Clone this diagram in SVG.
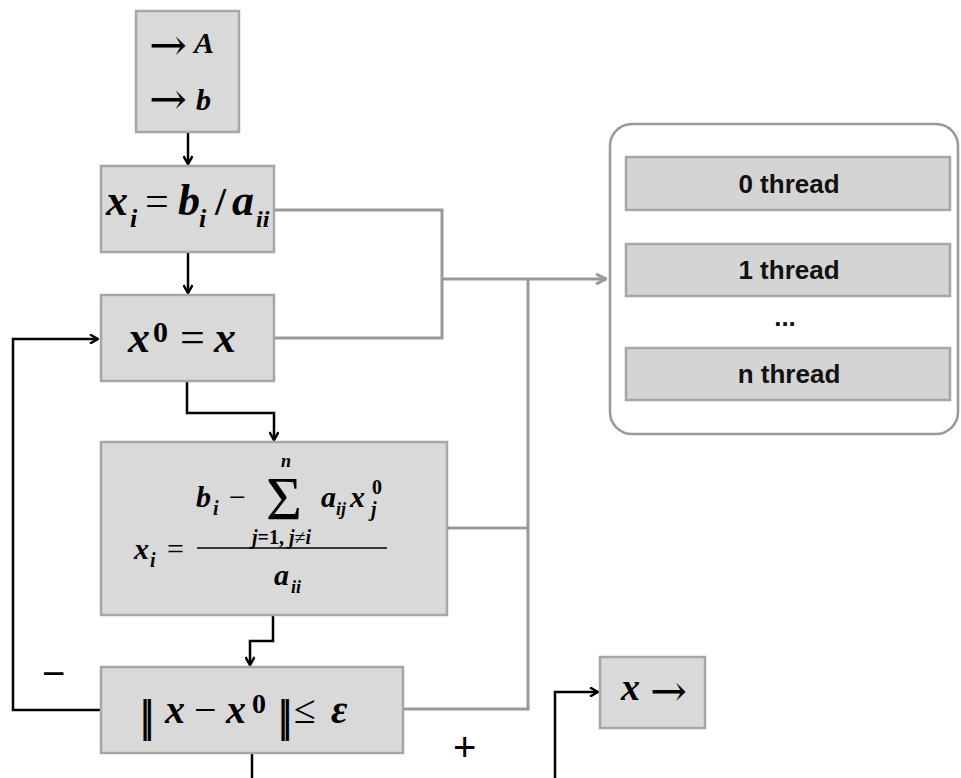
<svg xmlns="http://www.w3.org/2000/svg" width="961" height="778" viewBox="0 0 961 778">
<style>
.box{fill:#d9d9d9;stroke:#a6a6a6;stroke-width:2.5}
.tbox{fill:#d4d4d4;stroke:#a6a6a6;stroke-width:2.5}
.m{font-family:"Liberation Serif",serif;font-weight:bold;font-style:italic;fill:#000}
.u{font-family:"Liberation Serif",serif;font-weight:normal;font-style:normal;fill:#000}
.ub{font-family:"Liberation Serif",serif;font-weight:bold;font-style:normal;fill:#000}
.ar{font-family:"DejaVu Serif",serif;font-weight:normal;fill:#000}
.t{font-family:"Liberation Sans",Arial,sans-serif;font-weight:bold;font-size:26px;fill:#111;text-anchor:middle}
.blk{fill:none;stroke:#000;stroke-width:2.5}
.gry{fill:none;stroke:#999;stroke-width:3}
.lbl{font-family:"Liberation Sans",Arial,sans-serif;font-size:40px;fill:#000}
</style>
<defs>
<marker id="ab" markerWidth="10" markerHeight="10" refX="9" refY="5" orient="auto" markerUnits="userSpaceOnUse" viewBox="0 0 10 10">
<path d="M1,0.5 L9,5 L1,9.5" fill="none" stroke="#000" stroke-width="2.5"/>
</marker>
<marker id="ag" markerWidth="12" markerHeight="12" refX="11" refY="6" orient="auto" markerUnits="userSpaceOnUse" viewBox="0 0 12 12">
<path d="M1,1 L11,6 L1,11" fill="none" stroke="#999" stroke-width="3"/>
</marker>
</defs>

<g id="connectors">
<path class="blk" d="M188,133 V164" marker-end="url(#ab)"/>
<path class="blk" d="M188,253 V293" marker-end="url(#ab)"/>
<path class="blk" d="M187,382 V413 H274 V440" marker-end="url(#ab)"/>
<path class="blk" d="M273,615 V641 H250 V665" marker-end="url(#ab)"/>
<path class="blk" d="M101,710 H13 V339 H98" marker-end="url(#ab)"/>
<path class="blk" d="M252,753 V778"/>
<path class="blk" d="M555,778 V692 H598" marker-end="url(#ab)"/>
<path class="gry" d="M275,210 H442 V338 H275"/>
<path class="gry" d="M442,279 H606" marker-end="url(#ag)"/>
<path class="gry" d="M528,279 V709 H403"/>
<path class="gry" d="M447,528 H528"/>
<text class="lbl" x="42" y="687">−</text>
<text class="lbl" x="453" y="761">+</text>
</g>

<g id="input">
<rect class="box" x="136" y="11" width="103" height="121"/>
<text class="ar" x="149" y="60" font-size="44" textLength="38" lengthAdjust="spacingAndGlyphs">→</text>
<text class="m" x="194" y="53" font-size="30">A</text>
<text class="ar" x="149" y="114" font-size="44" textLength="38" lengthAdjust="spacingAndGlyphs">→</text>
<text class="m" x="196" y="110" font-size="30">b</text>
</g>

<g id="init">
<rect class="box" x="101" y="166" width="173" height="86"/>
<text class="m" x="106" y="215" font-size="44">x</text>
<text class="m" x="130" y="227" font-size="26">i</text>
<text class="u" x="145" y="215" font-size="42">=</text>
<text class="m" x="178" y="215" font-size="44">b</text>
<text class="m" x="199" y="227" font-size="26">i</text>
<text class="ub" x="215" y="215" font-size="40">/</text>
<text class="m" x="232" y="215" font-size="44">a</text>
<text class="m" x="256" y="227" font-size="24">ii</text>
</g>

<g id="copy">
<rect class="box" x="101" y="295" width="173" height="86"/>
<text class="m" x="128" y="352" font-size="44">x</text>
<text class="ub" x="153" y="342" font-size="30">0</text>
<text class="u" x="180" y="352" font-size="44">=</text>
<text class="m" x="214" y="352" font-size="44">x</text>
</g>

<g id="jacobi">
<rect class="box" x="101" y="442" width="346" height="173"/>
<text class="m" x="196" y="507" font-size="30">b</text>
<text class="m" x="213" y="515" font-size="20">i</text>
<text class="u" x="229" y="507" font-size="30">−</text>
<text class="u" x="266" y="519" font-size="62" textLength="36" lengthAdjust="spacingAndGlyphs">Σ</text>
<text class="m" x="281" y="467" font-size="18">n</text>
<text class="m" x="321" y="507" font-size="30">a</text>
<text class="m" x="336" y="515" font-size="18">ij</text>
<text class="m" x="350" y="507" font-size="30">x</text>
<text class="ub" x="372" y="494" font-size="20">0</text>
<text class="m" x="371" y="516" font-size="20">j</text>
<text class="m" x="252" y="544" font-size="20">j<tspan class="ub">=1,</tspan> j<tspan class="u">≠</tspan>i</text>
<line x1="197" y1="548" x2="387" y2="548" stroke="#000" stroke-width="1.5"/>
<text class="m" x="134" y="559" font-size="30">x</text>
<text class="m" x="150" y="567" font-size="20">i</text>
<text class="u" x="167" y="559" font-size="30">=</text>
<text class="m" x="274" y="585" font-size="30">a</text>
<text class="m" x="291" y="593" font-size="18">ii</text>
</g>

<g id="check">
<rect class="box" x="101" y="667" width="302" height="86"/>
<text class="ub" x="140" y="731" font-size="46" letter-spacing="-6">||</text>
<text class="m" x="165" y="723" font-size="40">x</text>
<text class="u" x="194" y="723" font-size="40">−</text>
<text class="m" x="226" y="723" font-size="40">x</text>
<text class="ub" x="252" y="713" font-size="28">0</text>
<text class="ub" x="278" y="731" font-size="46" letter-spacing="-6">||</text>
<text class="u" x="294" y="723" font-size="40">≤</text>
<text class="m" x="331" y="723" font-size="40">ε</text>
</g>

<g id="output">
<rect class="box" x="600" y="657" width="105" height="71"/>
<text class="m" x="621" y="700" font-size="38">x</text>
<text class="ar" x="650" y="706" font-size="44" textLength="37" lengthAdjust="spacingAndGlyphs">→</text>
</g>

<g id="threads">
<rect x="610" y="124" width="348" height="310" rx="22" fill="#fff" stroke="#999" stroke-width="2.5"/>
<rect class="tbox" x="626" y="157" width="324" height="53"/>
<text class="t" x="789" y="193">0 thread</text>
<rect class="tbox" x="626" y="244" width="324" height="52"/>
<text class="t" x="789" y="279">1 thread</text>
<text class="t" x="785" y="326">...</text>
<rect class="tbox" x="626" y="348" width="324" height="52"/>
<text class="t" x="789" y="383">n thread</text>
</g>
</svg>
